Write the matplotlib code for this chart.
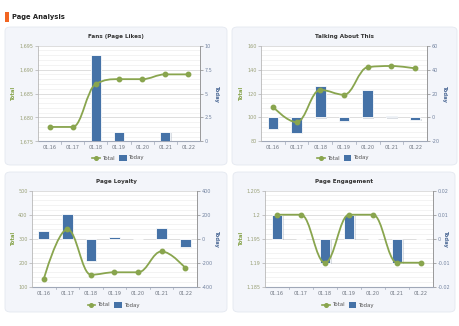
import matplotlib
matplotlib.use("Agg")
import matplotlib.pyplot as plt
import numpy as np
from matplotlib.path import Path
from matplotlib.patches import PathPatch, FancyBboxPatch, Rectangle
from matplotlib.ticker import FixedLocator, FuncFormatter, AutoMinorLocator
import matplotlib.transforms as mtransforms

plt.rcParams['font.family'] = ['DejaVu Sans']

categories = ["01.16", "01.17", "01.18", "01.19", "01.20", "01.21", "01.22"]

titles = ["Fans (Page Likes)", "Talking About This", "Page Loyalty", "Page Engagement"]

fans_total = [1678, 1678, 1687, 1688, 1688, 1689, 1689]
fans_today = [0, 0, 9, 1, 0, 1, 0]

talk_total = [109, 96, 123, 119, 142, 143, 141]
talk_today = [-10, -13, 26, -3, 23, 1, -2]

loyal_total = [132, 339, 150, 160, 160, 247, 178]
loyal_today = [64, 208, -185, 10, 0, 86, -66]

eng_total = [1.20, 1.20, 1.19, 1.20, 1.20, 1.19, 1.19]
eng_today = [0.01, 0, -0.01, 0.01, 0, -0.01, 0]

left_ticks = [
    [1675, 1680, 1685, 1690, 1695],
    [80, 100, 120, 140, 160],
    [100, 200, 300, 400, 500],
    [1.185, 1.19, 1.195, 1.2, 1.205],
]
right_ticks = [
    [0, 2.5, 5, 7.5, 10],
    [-20, 0, 20, 40, 60],
    [-400, -200, 0, 200, 400],
    [-0.02, -0.01, 0, 0.01, 0.02],
]

series_total = [fans_total, talk_total, loyal_total, eng_total]
series_today = [fans_today, talk_today, loyal_today, eng_today]

GREEN = "#89A54E"
BLUE = "#4572A7"
TXT = "#666666"

W, H = 460, 326
fig = plt.figure(figsize=(W / 100, H / 100), dpi=100)
fig.patch.set_facecolor("white")

def fx(px):
    return px / W

def fy(py):
    return 1 - py / H

# Header
fig.patches.append(Rectangle((fx(5), fy(22)), fx(3.5), 10 / H, transform=fig.transFigure,
                             facecolor="#F26522", edgecolor="none", zorder=-5))
fig.text(fx(11.5), fy(17), "Page Analysis", fontsize=4.9, fontweight="bold", color="#222222",
         va="center", ha="left")

panels = [(5, 27, 227, 165), (232, 27, 457, 165), (5, 172, 227, 312), (233, 172, 455, 312)]
axes_px = [(38, 45.7, 200, 141.3), (261, 45.7, 427, 141.3),
           (32, 190.7, 197, 286.7), (265, 190.7, 433, 286.7)]
total_label_x = [14, 242, 14, 242]
today_label_x = [217, 445, 217, 446]

def fmt_left(v, i):
    if i == 0:
        return f"{v:,.0f}"
    if i == 3:
        return f"{v:.3f}".rstrip("0").rstrip(".")
    return f"{v:.0f}"

def fmt_right(v, i):
    if i in (0, 3):
        return f"{v:g}"
    return f"{v:.0f}"

def spline_path(xs, ys):
    n = len(xs)
    sm = 1.5
    den = sm + 1
    lc = [None] * n
    rc = [None] * n
    for i in range(n):
        x, y = xs[i], ys[i]
        if i == 0 or i == n - 1:
            lc[i] = (x, y)
            rc[i] = (x, y)
            continue
        lx, ly = xs[i - 1], ys[i - 1]
        nx, ny = xs[i + 1], ys[i + 1]
        lcx = (sm * x + lx) / den
        lcy = (sm * y + ly) / den
        rcx = (sm * x + nx) / den
        rcy = (sm * y + ny) / den
        if rcx != lcx:
            corr = ((rcy - lcy) * (rcx - x)) / (rcx - lcx) + y - rcy
            lcy += corr
            rcy += corr
            if lcy > ly and lcy > y:
                lcy = max(ly, y); rcy = 2 * y - lcy
            elif lcy < ly and lcy < y:
                lcy = min(ly, y); rcy = 2 * y - lcy
            if rcy > ny and rcy > y:
                rcy = max(ny, y); lcy = 2 * y - rcy
            elif rcy < ny and rcy < y:
                rcy = min(ny, y); lcy = 2 * y - rcy
        lc[i] = (lcx, lcy)
        rc[i] = (rcx, rcy)
    verts = [(xs[0], ys[0])]
    codes = [Path.MOVETO]
    for i in range(n - 1):
        verts += [rc[i], lc[i + 1], (xs[i + 1], ys[i + 1])]
        codes += [Path.CURVE4] * 3
    return Path(verts, codes)

TICK_FS = 3.5

for i in range(4):
    x0, y0, x1, y1 = panels[i]
    bg = FancyBboxPatch((fx(x0), fy(y1)), fx(x1 - x0), (y1 - y0) / H,
                        boxstyle="round,pad=0,rounding_size=0.012",
                        transform=fig.transFigure, facecolor="#F3F5FA",
                        edgecolor="#E4E8F0", linewidth=0.6, zorder=-5)
    fig.patches.append(bg)

    ax0, ay0, ax1, ay1 = axes_px[i]
    ax = fig.add_axes([fx(ax0), fy(ay1), fx(ax1 - ax0), (ay1 - ay0) / H])
    ax2 = ax.twinx()
    ax.set_zorder(2)
    ax2.set_zorder(1)
    ax.patch.set_visible(False)
    ax2.patch.set_visible(True)
    ax2.patch.set_facecolor("white")

    x = np.arange(len(categories))
    lt = left_ticks[i]
    rt = right_ticks[i]
    ax.set_xlim(-0.5, len(categories) - 0.5)
    ax2.set_xlim(-0.5, len(categories) - 0.5)
    ax.set_ylim(lt[0], lt[-1])
    ax2.set_ylim(rt[0], rt[-1])

    ax2.yaxis.set_major_locator(FixedLocator(rt))
    ax2.yaxis.set_minor_locator(AutoMinorLocator(5))
    ax2.set_xticks(np.arange(-0.5, len(categories), 1.0))
    ax2.grid(which="major", axis="y", color="#D8D8D8", linewidth=0.6)
    ax2.grid(which="minor", axis="y", color="#EFEFEF", linewidth=0.5)
    ax2.grid(which="major", axis="x", color="#E2E2E2", linewidth=0.5, linestyle=(0, (3, 2)))
    ax2.set_axisbelow(True)

    vals = series_today[i]
    shadow = mtransforms.offset_copy(ax2.transData, fig=fig, x=0.8, y=-0.8, units="points")
    ax2.bar(x, vals, width=0.45, color="#9AA4B4", alpha=0.35, transform=shadow,
            edgecolor="none", zorder=2)
    ax2.bar(x, vals, width=0.45, color=BLUE, edgecolor="white", linewidth=0.6, zorder=3)

    tot = series_total[i]
    p = spline_path(list(x.astype(float)), list(map(float, tot)))
    ax.add_patch(PathPatch(p, facecolor="none", edgecolor=GREEN, linewidth=1.3, zorder=4))
    ax.plot(x, tot, linestyle="none", marker="o", markersize=3.2, color=GREEN, zorder=5)

    ax.yaxis.set_major_locator(FixedLocator(lt))
    ax.yaxis.set_major_formatter(FuncFormatter(lambda v, pos, i=i: fmt_left(v, i)))
    ax2.yaxis.set_major_formatter(FuncFormatter(lambda v, pos, i=i: fmt_right(v, i)))
    ax.set_xticks(x)
    ax.set_xticklabels(categories)
    ax2.tick_params(axis="x", which="both", bottom=False, labelbottom=False, top=False)

    ax.tick_params(axis="x", length=0, labelsize=TICK_FS, colors="#6E7580", pad=3)
    ax.tick_params(axis="y", length=2.0, width=0.5, color="#B0B0B0", labelsize=TICK_FS,
                   labelcolor="#9AA178", pad=1.2)
    ax2.tick_params(axis="y", which="major", length=2.2, width=0.5, color="#8A8A8A",
                    labelsize=TICK_FS, labelcolor="#7484A0", pad=1.2)
    ax2.tick_params(axis="y", which="minor", length=0)

    for b in np.arange(0.5, len(categories) - 1, 1.0):
        ax.plot([b, b], [0, -0.025], transform=ax.get_xaxis_transform(), color="#A0A8B8",
                linewidth=0.5, clip_on=False)

    for a in (ax, ax2):
        a.spines["top"].set_visible(False)
    ax.spines["left"].set_color("#B8B8B8")
    ax.spines["left"].set_linewidth(0.6)
    ax.spines["right"].set_visible(False)
    ax.spines["bottom"].set_visible(False)
    ax2.spines["left"].set_visible(False)
    ax2.spines["right"].set_color("#8A8A8A")
    ax2.spines["right"].set_linewidth(0.6)
    ax2.spines["bottom"].set_color("#A0A8B8")
    ax2.spines["bottom"].set_linewidth(0.8)

    ymid = fy((ay0 + ay1) / 2)
    fig.text(fx(total_label_x[i]), ymid, "Total", fontsize=3.8, fontweight="bold",
             color=GREEN, rotation=90, ha="center", va="center")
    fig.text(fx(today_label_x[i]), ymid, "Today", fontsize=3.8, fontweight="bold",
             color="#4D6A96", rotation=270, ha="center", va="center")

    fig.text(fx((x0 + x1) / 2), fy(ay0 - 9.5), titles[i], fontsize=4.1, fontweight="bold",
             color="#333333", ha="center", va="center")

    cx = (ax0 + ax1) / 2
    ly = y1 - 7
    fig.lines.append(plt.Line2D([fx(cx - 27), fx(cx - 19)], [fy(ly), fy(ly)],
                                transform=fig.transFigure, color=GREEN, linewidth=1.2))
    fig.lines.append(plt.Line2D([fx(cx - 23)], [fy(ly)], transform=fig.transFigure,
                                color=GREEN, marker="o", markersize=2.6, linestyle="none"))
    fig.text(fx(cx - 17), fy(ly), "Total", fontsize=3.9, color="#555555", va="center", ha="left")
    fig.patches.append(Rectangle((fx(cx), fy(ly + 3.3)), fx(7.5), 6.6 / H,
                                 transform=fig.transFigure, facecolor=BLUE, edgecolor="none"))
    fig.text(fx(cx + 9.5), fy(ly), "Today", fontsize=3.9, color="#555555", va="center", ha="left")

fig.savefig("out.png", dpi=100, facecolor="white")
